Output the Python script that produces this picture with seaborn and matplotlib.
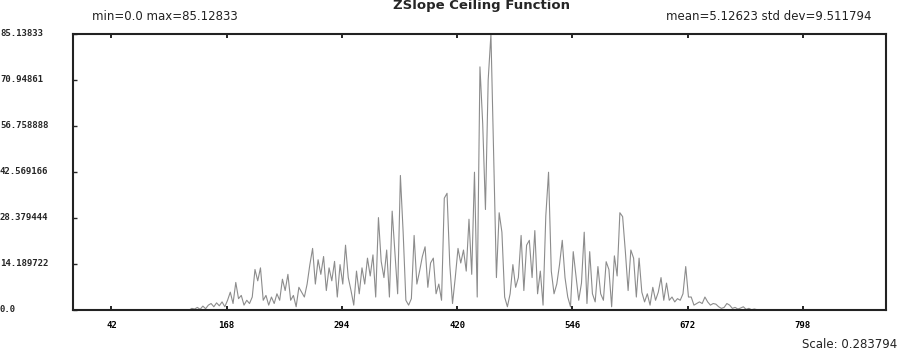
import numpy as np
import pandas as pd
import matplotlib
matplotlib.use("Agg")
import matplotlib.pyplot as plt
import seaborn as sns

# values, one every 3 samples from sample 130
start, step = 130, 3
values = [
    0.5, 0.3, 0.8, 0.2, 1.2, 0.4, 1.5, 2.0, 1.0, 2.2, 1.3, 2.5, 1.0, 3.0, 5.5, 2.0,
    8.5, 3.5, 4.5, 1.5, 3.0, 2.0, 4.0, 12.5, 9.0, 13.0, 3.0, 4.5, 1.5, 4.0, 2.0, 5.0,
    3.0, 9.5, 6.0, 11.0, 3.0, 4.5, 1.0, 7.0, 5.5, 4.0, 8.0, 14.0, 19.0, 8.0, 15.5, 11.0,
    16.5, 6.0, 13.0, 9.0, 15.0, 4.0, 14.0, 8.0, 20.0, 10.0, 6.0, 1.5, 12.0, 5.0, 13.0, 8.0,
    16.0, 10.5, 17.0, 4.0, 28.5, 15.0, 10.0, 18.5, 4.0, 30.5, 18.0, 5.0, 41.5, 24.0, 3.0, 1.5,
    3.5, 23.0, 8.0, 12.0, 16.5, 19.5, 7.0, 14.5, 16.0, 5.0, 8.0, 3.0, 34.5, 36.0, 14.0, 2.0,
    10.0, 19.0, 14.5, 18.5, 12.0, 28.0, 11.0, 42.5, 4.0, 75.0, 57.5, 31.0, 71.0, 85.1, 48.0, 10.0,
    30.0, 24.0, 4.0, 1.0, 5.0, 14.0, 7.0, 10.0, 23.0, 6.0, 20.0, 21.5, 10.0, 24.5, 5.0, 12.0,
    1.5, 29.0, 42.5, 12.0, 5.0, 8.0, 14.0, 21.5, 10.0, 4.0, 1.0, 18.0, 10.5, 3.0, 8.3, 24.0,
    2.0, 18.0, 5.0, 2.5, 13.4, 5.0, 3.0, 14.9, 12.5, 1.0, 16.7, 10.5, 30.0, 28.8, 18.0, 6.0,
    18.5, 16.0, 4.0, 16.0, 5.5, 2.5, 5.0, 1.5, 7.0, 3.0, 5.5, 10.0, 3.0, 8.3, 3.0, 4.0,
    2.5, 3.5, 3.0, 5.0, 13.4, 4.0, 4.0, 1.5, 2.0, 2.5, 2.0, 4.0, 2.5, 1.5, 2.0, 1.8,
    1.0, 0.5, 0.8, 2.0, 1.5, 0.5, 0.8, 0.3, 0.6, 1.0, 0.2, 0.5, 0.1, 0.3, 0.1, 0.0,
]
x_last = 888
x_ticks = [42, 168, 294, 420, 546, 672, 798]
y_max = 85.13833
y_ticks = [0.0, 14.189722, 28.379444, 42.569166, 56.758888, 70.94861, 85.13833]
y_labels = ["0.0", "14.189722", "28.379444", "42.569166", "56.758888", "70.94861", "85.13833"]

xs = [0, start - step] + [start + i * step for i in range(len(values))]
xs += [xs[-1] + step, x_last]
ys = [0.0, 0.0] + values + [0.0, 0.0]
df = pd.DataFrame({"x": xs, "y": ys})

sns.set_theme(style="white")
plt.rcParams["font.family"] = ["DejaVu Sans"]

fig = plt.figure(figsize=(9, 3.54), dpi=100)
ax = fig.add_axes([73 / 900, 1 - 310 / 354, 813 / 900, 276 / 354])
sns.lineplot(data=df, x="x", y="y", ax=ax, color="#8c8c8c", linewidth=0.8)

ax.set_xlim(0, x_last + 1)
ax.set_ylim(0, y_max)
ax.set_xticks(x_ticks)
ax.set_xticklabels([str(t) for t in x_ticks], fontsize=6.5, fontweight="bold",
                   family="DejaVu Sans Mono")
ax.set_yticks(y_ticks)
ax.set_yticklabels([])
ax.set_xlabel("")
ax.set_ylabel("")
ax.tick_params(axis="x", which="both", direction="in", length=3, width=1.2,
               top=True, bottom=True, pad=8, colors="black")
ax.tick_params(axis="y", which="both", direction="in", length=3, width=1.0,
               left=True, right=False)
for s in ax.spines.values():
    s.set_color("#222222")
    s.set_linewidth(1.5)

# y labels sit flush at the left edge of the figure
for t, lab in zip(y_ticks, y_labels):
    ax.text(-73 / 813, t, lab, transform=ax.get_yaxis_transform(), ha="left",
            va="center", fontsize=6.5, fontweight="bold", family="DejaVu Sans Mono")

fig.text(481 / 900, 1 - 5 / 354, "ZSlope Ceiling Function", ha="center", va="center",
         fontsize=9.5, fontweight="bold")
fig.text(92 / 900, 1 - 17 / 354, "min=0.0 max=85.12833", ha="left", va="center",
         fontsize=8.5, color="#222222")
fig.text(871 / 900, 1 - 17 / 354, "mean=5.12623 std dev=9.511794", ha="right",
         va="center", fontsize=8.5, color="#222222")
fig.text(897 / 900, 1 - 345 / 354, "Scale: 0.283794", ha="right", va="center",
         fontsize=8.5, color="#222222")

fig.savefig("out.png", dpi=100)
